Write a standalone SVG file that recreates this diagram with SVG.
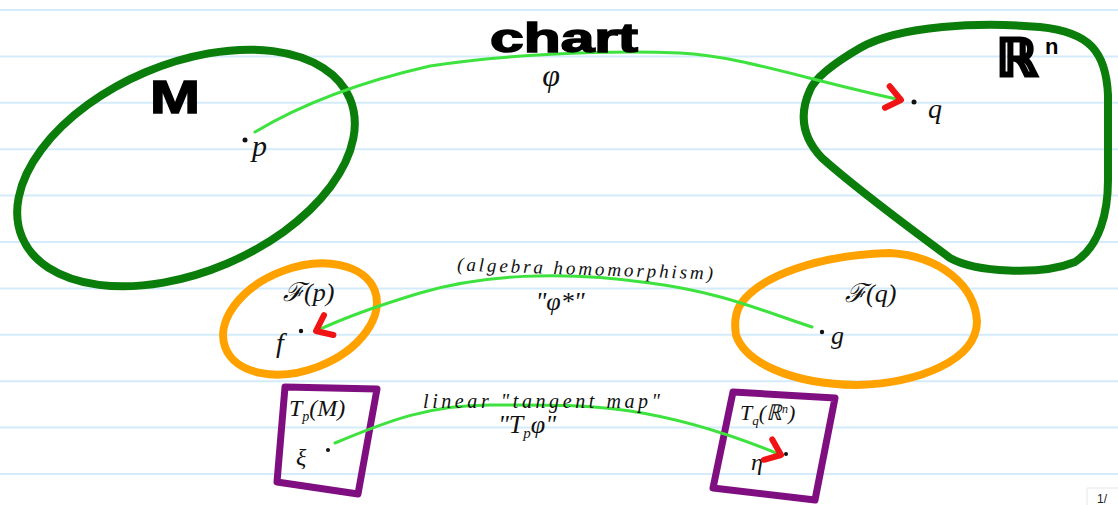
<svg xmlns="http://www.w3.org/2000/svg" width="1118" height="505" viewBox="0 0 1118 505">
<defs>
<style>
.rule{stroke:#d3ebfb;stroke-width:2}
.gr{fill:none;stroke:#0b7d0b;stroke-width:8;stroke-linejoin:round}
.or{fill:none;stroke:#ffa200;stroke-width:8;stroke-linejoin:round}
.pu{fill:none;stroke:#7f0f80;stroke-width:7;stroke-linejoin:round;stroke-linecap:round}
.conn{fill:none;stroke:#3ee23e;stroke-width:3;stroke-linecap:round}
.hand{font-family:"Liberation Serif","DejaVu Serif",serif;font-style:italic;fill:#111}
.bold{font-family:"Liberation Sans","DejaVu Sans",sans-serif;font-weight:bold;fill:#000;stroke:#000;stroke-width:1.5}
.dot{fill:#111}
</style>
<marker id="arr" viewBox="-20 -15 25 30" refX="0" refY="0" markerWidth="25" markerHeight="30" markerUnits="userSpaceOnUse" orient="auto">
<path d="M -14,-11 L 0,0 L -14,11" fill="none" stroke="#f01414" stroke-width="6" stroke-linecap="round" stroke-linejoin="round"/>
</marker>
</defs>
<rect width="1118" height="505" fill="#ffffff"/>
<g id="paper">
<line class="rule" x1="0" y1="10" x2="1118" y2="10"/>
<line class="rule" x1="0" y1="56.4" x2="1118" y2="56.4"/>
<line class="rule" x1="0" y1="102.8" x2="1118" y2="102.8"/>
<line class="rule" x1="0" y1="149.2" x2="1118" y2="149.2"/>
<line class="rule" x1="0" y1="195.6" x2="1118" y2="195.6"/>
<line class="rule" x1="0" y1="242" x2="1118" y2="242"/>
<line class="rule" x1="0" y1="288.4" x2="1118" y2="288.4"/>
<line class="rule" x1="0" y1="334.8" x2="1118" y2="334.8"/>
<line class="rule" x1="0" y1="381.2" x2="1118" y2="381.2"/>
<line class="rule" x1="0" y1="427.6" x2="1118" y2="427.6"/>
<line class="rule" x1="0" y1="474" x2="1118" y2="474"/>
</g>
<g id="node-M">
<ellipse class="gr" cx="186" cy="168" rx="178" ry="104" transform="rotate(-23 186 168)"/>
<text class="bold" x="150" y="113" font-size="46" textLength="50" lengthAdjust="spacingAndGlyphs">M</text>
<circle class="dot" cx="245" cy="140" r="2.5"/>
<text class="hand" x="252" y="156" font-size="30">p</text>
</g>
<g id="node-Rn">
<path class="gr" d="M 810,90 C 800,112 800,135 822,158 C 860,192 910,228 950,258 C 975,272 1040,276 1075,262 C 1100,246 1108,212 1108,180 L 1108,95 C 1106,52 1090,32 1040,27 C 980,22 900,25 860,48 C 836,62 816,76 810,90 Z"/>
<text x="996" y="76" font-family="DejaVu Sans, sans-serif" font-weight="bold" font-size="52" fill="#000" stroke="#000" stroke-width="3">ℝ</text>
<text x="1045" y="54" font-family="Liberation Sans, sans-serif" font-weight="bold" font-size="22" fill="#000">n</text>
<circle class="dot" cx="914" cy="102" r="2.5"/>
<text class="hand" x="928" y="118" font-size="28">q</text>
</g>
<g id="node-Fp">
<ellipse class="or" cx="300" cy="319" rx="80" ry="51" transform="rotate(-21 300 319)"/>
<text class="hand" x="283" y="301" font-size="26" font-style="normal">ℱ(p)</text>
<text class="hand" x="276" y="352" font-size="28">f</text>
<circle class="dot" cx="301" cy="331" r="2.2"/>
</g>
<g id="node-Fq">
<path class="or" d="M 740,305 C 760,275 820,255 890,253 C 940,256 975,285 977,322 C 976,360 920,383 857,385 C 790,384 745,362 736,335 C 734,322 736,312 740,305 Z"/>
<text class="hand" x="845" y="302" font-size="26" font-style="normal">ℱ(q)</text>
<circle class="dot" cx="822" cy="332" r="2.2"/>
<text class="hand" x="831" y="344" font-size="26">g</text>
</g>
<g id="node-TpM">
<path class="pu" d="M 285,387 L 377,389 L 358,494 L 277,482 Z"/>
<text class="hand" x="289" y="416" font-size="24" font-style="normal">T<tspan font-size="14" dy="5">p</tspan><tspan dy="-5">(M)</tspan></text>
<text class="hand" x="296" y="465" font-size="24">ξ</text>
<circle class="dot" cx="328" cy="450" r="2"/>
</g>
<g id="node-TqRn">
<path class="pu" d="M 733,392 L 835,398 L 815,500 L 713,488 Z"/>
<text class="hand" x="740" y="420" font-size="22" font-style="normal">T<tspan font-size="13" dy="5">q</tspan><tspan dy="-5">(ℝ</tspan><tspan font-size="12" dy="-7">n</tspan><tspan dy="7">)</tspan></text>
<text class="hand" x="751" y="470" font-size="24">η</text>
<circle class="dot" cx="786" cy="454" r="2"/>
</g>
<g id="connectors">
<path class="conn" d="M 255,132 C 300,105 360,82 430,66 C 500,55 600,50 680,53 C 740,56 800,78 901,100" marker-end="url(#arr)"/>
<text class="bold" x="490" y="52" font-size="40" textLength="148" lengthAdjust="spacingAndGlyphs">chart</text>
<text class="hand" x="551" y="86" font-size="32" text-anchor="middle">φ</text>
<path class="conn" d="M 812,327 C 760,310 720,292 650,283 C 560,270 480,275 420,293 C 380,305 350,315 316,331" marker-end="url(#arr)"/>
<text class="hand" x="457" y="275" font-size="19" textLength="256" lengthAdjust="spacing" transform="rotate(2 585 272)">(algebra homomorphism)</text>
<text class="hand" x="560" y="310" font-size="26" text-anchor="middle">"φ*"</text>
<path class="conn" d="M 335,443 C 390,420 430,405 490,405 C 540,405 580,404 630,411 C 690,420 740,438 781,455" marker-end="url(#arr)"/>
<text class="hand" x="423" y="408" font-size="20" textLength="237" lengthAdjust="spacing">linear "tangent map"</text>
<text class="hand" x="527" y="433" font-size="26" text-anchor="middle">"T<tspan font-size="15" dy="5">p</tspan><tspan dy="-5">φ"</tspan></text>
</g>
<g id="page">
<path d="M 1087,505 L 1087,488 L 1118,488" fill="#ffffff" stroke="#e6e6e6" stroke-width="1"/>
<text x="1097" y="503" font-family="Liberation Sans, sans-serif" font-size="12" fill="#222">1/</text>
</g>
</svg>
